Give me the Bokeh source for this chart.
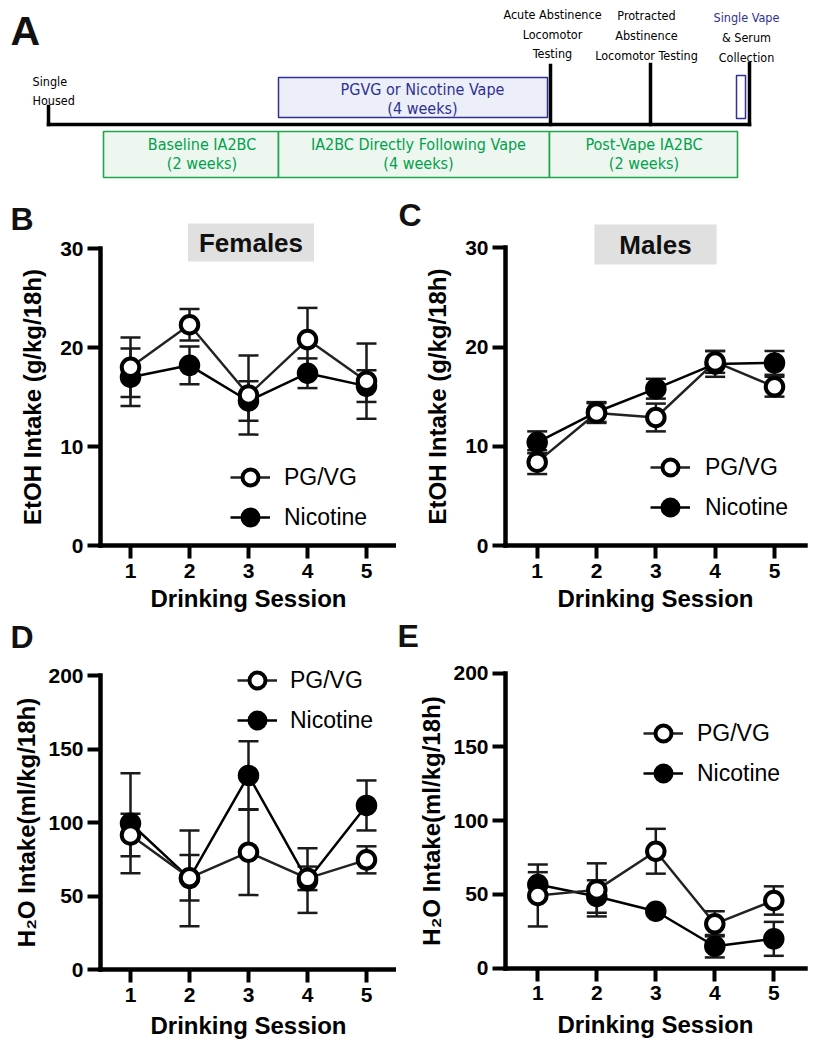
from bokeh.plotting import figure
from bokeh.layouts import column, row
from bokeh.models import (Range1d, Whisker, TeeHead, ColumnDataSource, Label,
                          Legend, LegendItem, FixedTicker)
from bokeh.core.properties import value
from bokeh.embed import file_html
from bokeh.resources import INLINE

# ---------------- data ----------------
sessions = [1, 2, 3, 4, 5]

# B: Females EtOH intake (g/kg/18h)
etoh_f_pgvg = [18.0, 22.3, 15.2, 20.8, 16.6]
etoh_f_pgvg_sem = [3.0, 1.6, 4.0, 3.2, 3.8]
etoh_f_nic = [17.0, 18.2, 14.6, 17.4, 16.1]
etoh_f_nic_sem = [2.9, 1.9, 2.0, 1.5, 1.6]

# C: Males EtOH intake
etoh_m_pgvg = [8.4, 13.35, 12.9, 18.5, 16.0]
etoh_m_pgvg_sem = [1.2, 1.0, 1.4, 1.1, 1.0]
etoh_m_nic = [10.4, 13.45, 15.8, 18.3, 18.4]
etoh_m_nic_sem = [1.1, 1.0, 1.0, 1.3, 1.2]

# D: Females H2O intake (ml/kg/18h)
h2o_f_pgvg = [91.5, 62.4, 79.8, 62.0, 74.6]
h2o_f_pgvg_sem = [14.5, 15.5, 29.2, 8.0, 9.2]
h2o_f_nic = [99.5, 62.0, 132.0, 60.5, 111.6]
h2o_f_nic_sem = [34.0, 32.5, 23.3, 22.0, 17.0]

# E: Males H2O intake
h2o_m_pgvg = [49.3, 53.1, 79.3, 30.1, 45.9]
h2o_m_pgvg_sem = [21.0, 18.0, 15.2, 8.5, 9.6]
h2o_m_nic = [56.7, 48.6, 38.6, 14.9, 19.9]
h2o_m_nic_sem = [8.4, 11.0, 1.5, 7.6, 11.5]

etoh_ticks = [0, 10, 20, 30]
h2o_ticks = [0, 50, 100, 150, 200]

# ---------------- panel A schematic (schematic units) ----------------
tl_base_x = [48, 749]
tl_base_y = 124
tl_event_x = [48, 550, 650, 749]
tl_event_top = [106, 65, 64, 63]
phase_left = [103, 278, 549]
phase_right = [278, 549, 737]
phase_top, phase_bottom = 131, 177
phase_line1 = ["Baseline IA2BC", "IA2BC Directly Following Vape", "Post-Vape IA2BC"]
phase_line2 = ["(2 weeks)", "(4 weeks)", "(2 weeks)"]
phase_text_x = [201.5, 418, 643.5]
phase_text_y = [144.3, 162.7]
vape_box = dict(left=278, right=547, top=77, bottom=117)
vape_lines = ["PGVG or Nicotine Vape", "(4 weeks)"]
vape_text_x = 422
vape_text_y = [89.3, 108.3]
serum_box = dict(left=736, right=745, top=75, bottom=118)
event_text = ["Acute Abstinence", "Locomotor", "Testing",
              "Protracted", "Abstinence", "Locomotor Testing",
              "& Serum", "Collection", "Single", "Housed"]
event_text_x = [552, 552, 552, 646, 646, 646, 746, 746, 32, 32]
event_text_y = [14, 34, 53, 15, 35, 55, 37, 57, 81, 100]
event_text_align = ["center"] * 8 + ["left", "left"]
single_vape_text = "Single Vape"

FONT = "Liberation Sans"
NARROW = "DejaVu Sans Condensed, Liberation Sans, sans-serif"
BLUE = "#2e3192"
GREEN = "#1fa64b"
GREEN_TEXT = "#00a14b"

# ---------------- panel A ----------------
pA = figure(width=818, height=190, output_backend="svg", toolbar_location=None,
            x_range=Range1d(0, 818), y_range=Range1d(190, 0),
            x_axis_location=None, y_axis_location=None, min_border=0)
pA.grid.visible = False
pA.outline_line_color = None

pA.quad(left=phase_left, right=phase_right, top=phase_top, bottom=phase_bottom,
        fill_color="#edf6ef", line_color=GREEN, line_width=1.6)
pA.quad(left=[vape_box["left"]], right=[vape_box["right"]], top=[vape_box["top"]],
        bottom=[vape_box["bottom"]], fill_color="#eceef8", line_color=BLUE, line_width=1.5)
pA.quad(left=[serum_box["left"]], right=[serum_box["right"]], top=[serum_box["top"]],
        bottom=[serum_box["bottom"]], fill_color="white", line_color=BLUE, line_width=1.5)
pA.segment(x0=tl_event_x, y0=tl_event_top, x1=tl_event_x, y1=[tl_base_y] * 4,
           line_width=3.5, line_color="black", line_cap="square")
pA.line(x=tl_base_x, y=[tl_base_y] * 2, line_width=3.5, line_color="black", line_cap="square")

pA.text(x=phase_text_x, y=[phase_text_y[0]] * 3, text=phase_line1, text_align="center",
        text_baseline="middle", text_font=value(NARROW), text_font_size="16px",
        text_color=GREEN_TEXT)
pA.text(x=phase_text_x, y=[phase_text_y[1]] * 3, text=phase_line2, text_align="center",
        text_baseline="middle", text_font=value(NARROW), text_font_size="16px",
        text_color=GREEN_TEXT)
pA.text(x=[vape_text_x] * 2, y=vape_text_y, text=vape_lines, text_align="center",
        text_baseline="middle", text_font=value(NARROW), text_font_size="16px", text_color=BLUE)
pA.text(x=event_text_x, y=event_text_y, text=event_text, text_align=event_text_align,
        text_baseline="middle", text_font=value(NARROW), text_font_size="12.5px",
        text_color="black")
pA.text(x=[746], y=[17], text=[single_vape_text], text_align="center",
        text_baseline="middle", text_font=value(NARROW), text_font_size="12.5px", text_color=BLUE)
pA.text(x=[10], y=[30], text=["A"], text_align="left", text_baseline="middle",
        text_font=value(FONT), text_font_style="bold", text_font_size="41px", text_color="#111111")


# ---------------- line panels ----------------
def make_panel(ox, oy, width, height, x1px, x5px, yaxis_px, xend_px, y0px, ytop_px, ytop,
               yticks, ylabel, ylabel_standoff, xlabel_standoff, pg, pg_err, nic, nic_err,
               leg_loc, leg_standoff, letter, letter_xy,
               title=None, title_xy=None, title_pad=None):
    ppx = (x5px - x1px) / 4.0
    ppy = (y0px - ytop_px) / float(ytop)
    xr = (1 - (x1px - ox) / ppx, 1 + (ox + width - x1px) / ppx)
    yr = (-(oy + height - y0px) / ppy, (y0px - oy) / ppy)
    x_axis_start = 1 - (x1px - yaxis_px) / ppx
    x_axis_end = 1 + (xend_px - x1px) / ppx

    p = figure(width=width, height=height, output_backend="svg", toolbar_location=None,
               x_range=Range1d(*xr), y_range=Range1d(*yr), min_border=0)
    p.grid.visible = False
    p.outline_line_color = None
    p.xaxis.ticker = FixedTicker(ticks=sessions)
    p.yaxis.ticker = FixedTicker(ticks=yticks)
    p.xaxis.fixed_location = 0
    p.yaxis.fixed_location = x_axis_start
    p.xaxis.bounds = (x_axis_start, x_axis_end)
    p.yaxis.bounds = (0, ytop)
    for ax in (p.xaxis[0], p.yaxis[0]):
        ax.axis_line_width = 4.5
        ax.axis_line_color = "black"
        ax.axis_line_cap = "square"
        ax.major_tick_line_width = 4
        ax.major_tick_line_color = "black"
        ax.major_tick_out = 13
        ax.major_tick_in = 0
        ax.minor_tick_out = 0
        ax.minor_tick_in = 0
        ax.major_label_text_font = FONT
        ax.major_label_text_font_style = "bold"
        ax.major_label_text_font_size = "21px"
        ax.major_label_text_color = "black"
        ax.axis_label_text_font = FONT
        ax.axis_label_text_font_style = "bold"
        ax.axis_label_text_font_size = "24px"
        ax.axis_label_text_color = "black"
    p.xaxis.axis_label = "Drinking Session"
    p.xaxis.major_label_standoff = 5
    p.xaxis.axis_label_standoff = xlabel_standoff
    p.yaxis.axis_label = ylabel
    p.yaxis.major_label_standoff = 4
    p.yaxis.axis_label_standoff = ylabel_standoff

    src = ColumnDataSource(dict(
        x=sessions, pg=pg, nic=nic,
        pg_lo=[m - e for m, e in zip(pg, pg_err)], pg_hi=[m + e for m, e in zip(pg, pg_err)],
        nic_lo=[m - e for m, e in zip(nic, nic_err)], nic_hi=[m + e for m, e in zip(nic, nic_err)],
    ))
    for lo, hi in (("nic_lo", "nic_hi"), ("pg_lo", "pg_hi")):
        w = Whisker(base="x", lower=lo, upper=hi, source=src, level="underlay",
                    line_width=2.5, line_color="#1a1a1a",
                    upper_head=TeeHead(size=20, line_width=2.5, line_color="#1a1a1a"),
                    lower_head=TeeHead(size=20, line_width=2.5, line_color="#1a1a1a"))
        p.add_layout(w)
    r_nl = p.line("x", "nic", source=src, line_width=2.5, line_color="black")
    r_pl = p.line("x", "pg", source=src, line_width=2.5, line_color="#222222")
    r_np = p.scatter("x", "nic", source=src, size=17.5, fill_color="black",
                     line_color="black", line_width=4)
    r_pp = p.scatter("x", "pg", source=src, size=17.5, fill_color="white",
                     line_color="black", line_width=4)

    leg = Legend(items=[LegendItem(label="PG/VG", renderers=[r_pl, r_pp]),
                        LegendItem(label="Nicotine", renderers=[r_nl, r_np])],
                 location=leg_loc, glyph_width=40, glyph_height=40, label_height=40,
                 spacing=0, padding=0, margin=0, label_standoff=leg_standoff,
                 border_line_color=None, background_fill_alpha=0,
                 label_text_font=FONT, label_text_font_size="23px",
                 label_text_color="black")
    p.add_layout(leg)

    p.add_layout(Label(x=letter_xy[0], y=letter_xy[1], x_units="screen", y_units="screen",
                       text=letter, text_font=FONT, text_font_style="bold",
                       text_font_size="32px", text_baseline="middle", text_color="#111111"))
    if title:
        p.add_layout(Label(x=title_xy[0], y=title_xy[1], x_units="screen", y_units="screen",
                           text=title, text_font=FONT, text_font_style="bold",
                           text_font_size="26px", text_align="center", text_baseline="middle",
                           text_color="#111111", background_fill_color="#e0e0e0",
                           padding=title_pad))
    return p


# figure origins: row 1 at y=190 (height 427), row 2 at y=617 (height 431); right column at x=396
pB = make_panel(0, 190, 396, 427, 130, 366, 100, 398, 545, 248, 30, etoh_ticks,
                "EtOH Intake (g/kg/18h)", 11, 4,
                etoh_f_pgvg, etoh_f_pgvg_sem, etoh_f_nic, etoh_f_nic_sem,
                (230, 80), 14, "B", (10, 398.5), "Females", (250.5, 375), (11, 4))
pC = make_panel(396, 190, 422, 427, 536.7, 774, 505, 805, 545, 247.3, 30, etoh_ticks,
                "EtOH Intake (g/kg/18h)", 11, 4,
                etoh_m_pgvg, etoh_m_pgvg_sem, etoh_m_nic, etoh_m_nic_sem,
                (254, 90), 15, "C", (2, 403), "Males", (259, 373), (25, 5))
pD = make_panel(0, 617, 396, 431, 130, 366, 100, 398, 969, 675, 200, h2o_ticks,
                "H\u2082O Intake(ml/kg/18h)", 5, 7,
                h2o_f_pgvg, h2o_f_pgvg_sem, h2o_f_nic, h2o_f_nic_sem,
                (237, 308), 13, "D", (10, 412))
pE = make_panel(396, 617, 422, 431, 537.3, 773.3, 505, 805, 967.7, 672.7, 200, h2o_ticks,
                "H\u2082O Intake(ml/kg/18h)", 5, 7,
                h2o_m_pgvg, h2o_m_pgvg_sem, h2o_m_nic, h2o_m_nic_sem,
                (247, 255), 14, "E", (1, 412.5))

layout = column(pA, row(pB, pC), row(pD, pE))
open("out.html", "w").write(file_html(layout, INLINE))
